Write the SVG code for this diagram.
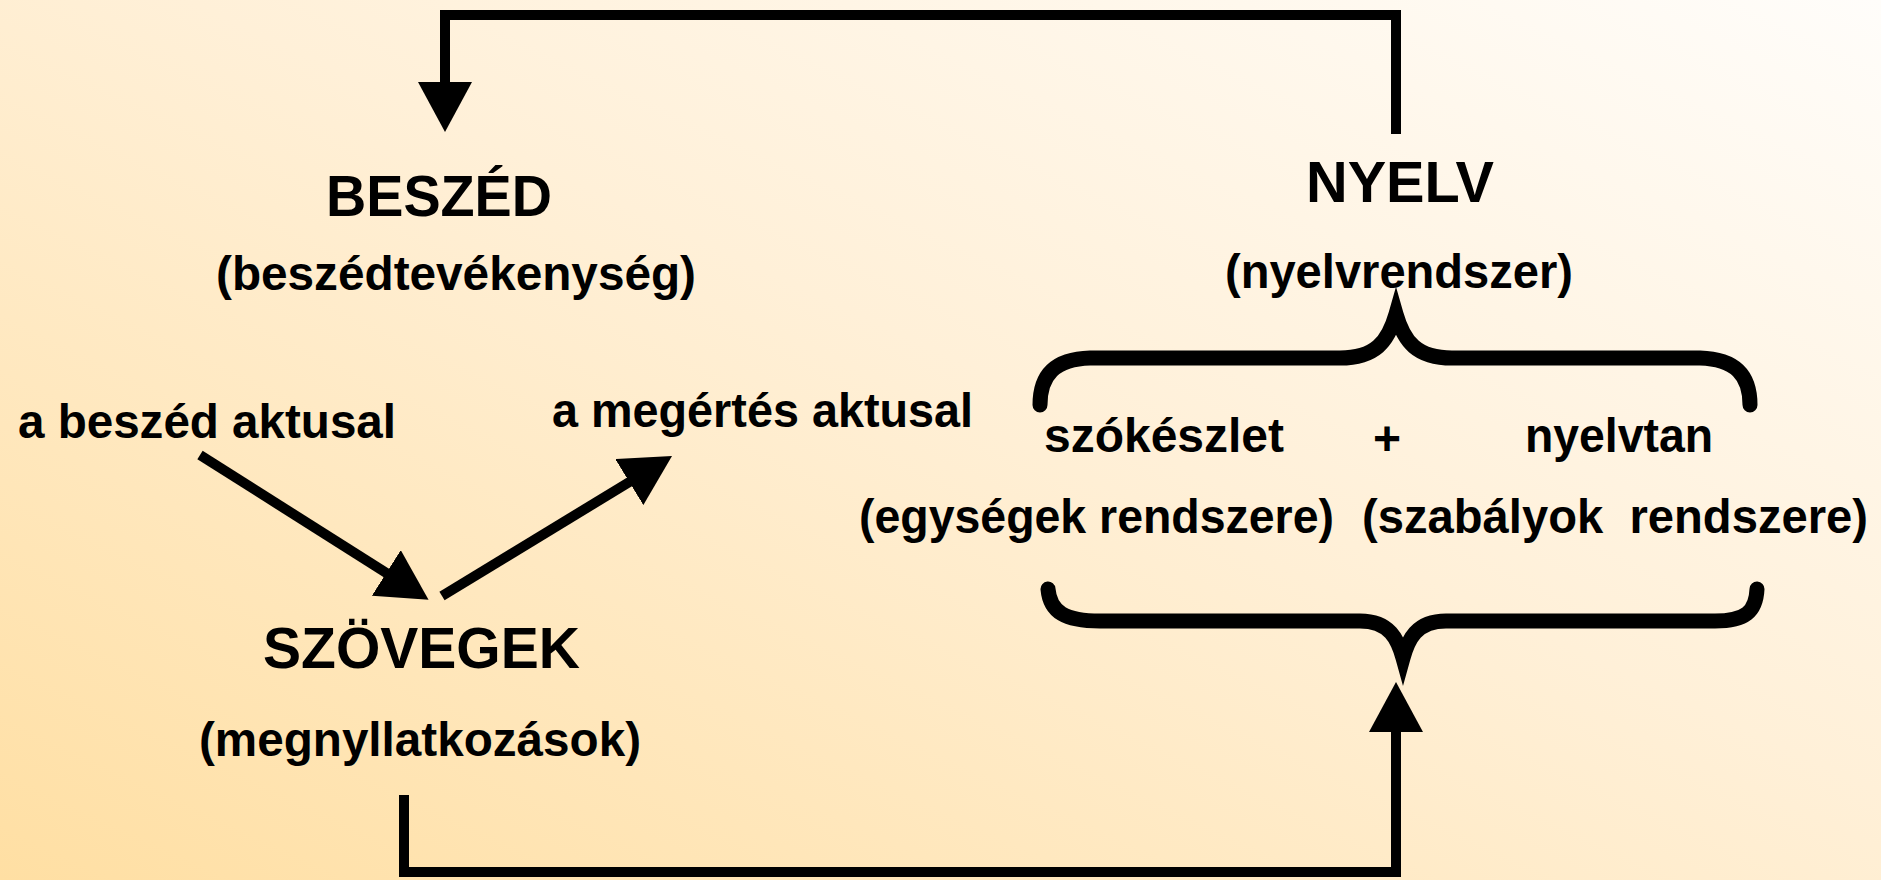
<svg xmlns="http://www.w3.org/2000/svg" width="1881" height="880" viewBox="0 0 1881 880">
<defs>
<linearGradient id="bg" x1="0" y1="1" x2="1" y2="0">
<stop offset="0" stop-color="#FFDFA3"/>
<stop offset="0.55" stop-color="#FFF0D8"/>
<stop offset="1" stop-color="#FFFDFA"/>
</linearGradient>
<marker id="arr" markerUnits="userSpaceOnUse" markerWidth="50" markerHeight="54" viewBox="0 0 50 54" refX="2" refY="27" orient="auto">
<path d="M0,0 L50,27 L0,54 z" fill="#000"/>
</marker>
</defs>
<style>
text{font-family:"Liberation Sans",Arial,sans-serif;font-weight:bold;fill:#000;}
.big{font-size:57px;}
.sm{font-size:48px;}
.conn{fill:none;stroke:#000;stroke-width:10;stroke-linejoin:miter;}
.brace{fill:none;stroke:#000;stroke-width:15;stroke-linecap:round;}
</style>
<rect x="0" y="0" width="1881" height="880" fill="url(#bg)"/>

<g id="connectors">
<path class="conn" d="M1396 134 V15 H445 V84" marker-end="url(#arr)"/>
<path class="conn" d="M404 795 V872 H1396 V730" marker-end="url(#arr)"/>
<path class="conn" d="M200 455 L388 574" marker-end="url(#arr)"/>
<path class="conn" d="M442 596 L631 481" marker-end="url(#arr)"/>
</g>

<g id="beszed">
<text class="big" x="326" y="216" textLength="226" lengthAdjust="spacingAndGlyphs">BESZÉD</text>
<text class="sm" x="216" y="290" textLength="480" lengthAdjust="spacingAndGlyphs">(beszédtevékenység)</text>
</g>

<g id="nyelv">
<text class="big" x="1306" y="202" textLength="188" lengthAdjust="spacingAndGlyphs">NYELV</text>
<text class="sm" x="1225" y="288" textLength="348" lengthAdjust="spacingAndGlyphs">(nyelvrendszer)</text>
</g>

<g id="beszed-aktus">
<text class="sm" x="18" y="438" textLength="378" lengthAdjust="spacingAndGlyphs">a beszéd aktusal</text>
</g>

<g id="megertes-aktus">
<text class="sm" x="552" y="427" textLength="421" lengthAdjust="spacingAndGlyphs">a megértés aktusal</text>
</g>

<g id="szovegek">
<text class="big" x="263" y="668" textLength="317" lengthAdjust="spacingAndGlyphs">SZÖVEGEK</text>
<text class="sm" x="199" y="756" textLength="442" lengthAdjust="spacingAndGlyphs">(megnyllatkozások)</text>
</g>

<g id="nyelvrendszer-reszei">
<path class="brace" d="M1040 405 C1040 375 1055 359 1090 358 L1340 358 C1375 358 1388 342 1396 314 C1404 342 1417 358 1452 358 L1700 358 C1735 359 1750 375 1750 405"/>
<text class="sm" x="1044" y="452" textLength="240" lengthAdjust="spacingAndGlyphs">szókészlet</text>
<text class="sm" x="1387" y="455" text-anchor="middle">+</text>
<text class="sm" x="1525" y="452" textLength="188" lengthAdjust="spacingAndGlyphs">nyelvtan</text>
<text class="sm" x="859" y="533" textLength="475" lengthAdjust="spacingAndGlyphs">(egységek rendszere)</text>
<text class="sm" x="1362" y="533" textLength="506" lengthAdjust="spacingAndGlyphs" xml:space="preserve">(szabályok  rendszere)</text>
<path class="brace" d="M1048 589 C1050 612 1065 621 1100 621 L1360 621 C1390 621 1398 640 1403 658 C1408 640 1416 621 1446 621 L1715 621 C1745 621 1756 612 1757 589"/>
</g>
</svg>
